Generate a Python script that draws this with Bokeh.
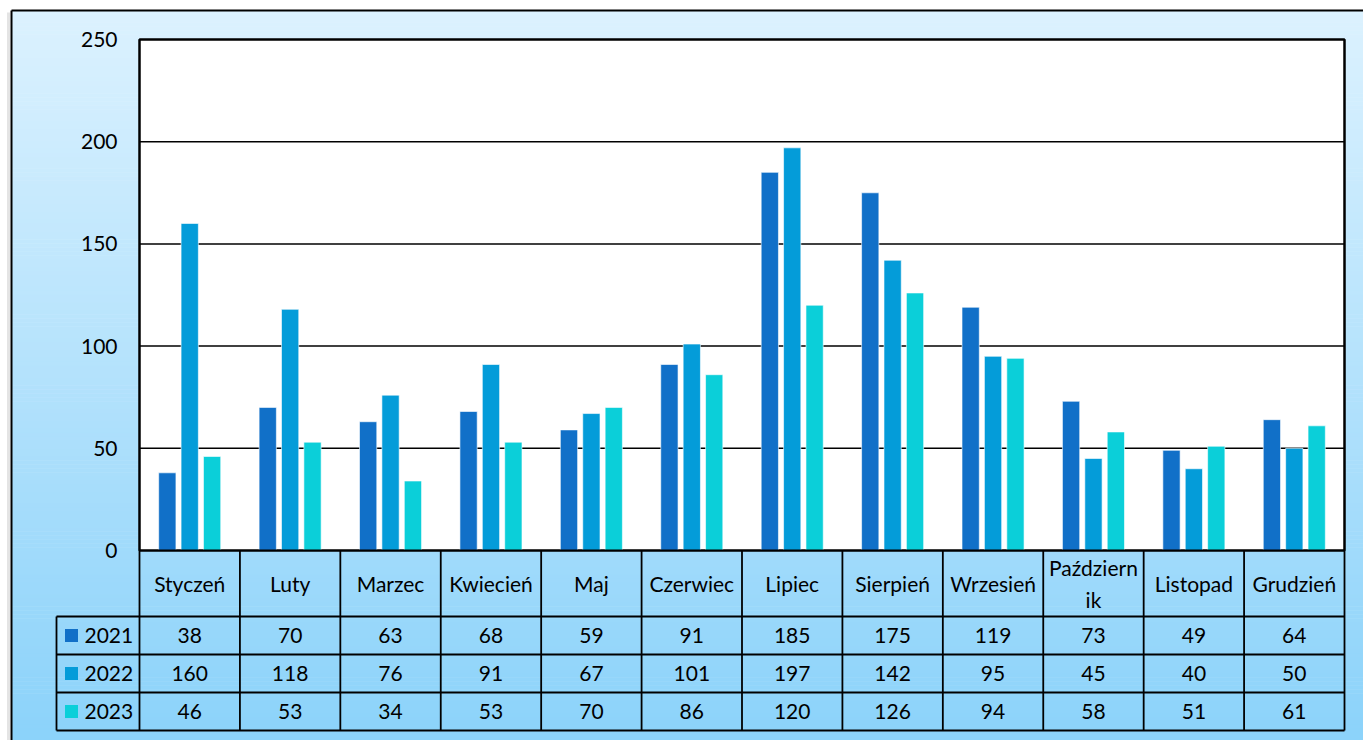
import numpy as np
from bokeh.plotting import figure
from bokeh.models import Range1d
from bokeh.core.properties import value
from bokeh.embed import file_html
from bokeh.resources import INLINE

# ---------------- data ----------------
months = ["Styczeń", "Luty", "Marzec", "Kwiecień", "Maj", "Czerwiec", "Lipiec",
          "Sierpień", "Wrzesień", "Październik", "Listopad", "Grudzień"]
years = ["2021", "2022", "2023"]
v2021 = [38, 70, 63, 68, 59, 91, 185, 175, 119, 73, 49, 64]
v2022 = [160, 118, 76, 91, 67, 101, 197, 142, 95, 45, 40, 50]
v2023 = [46, 53, 34, 53, 70, 86, 120, 126, 94, 58, 51, 61]
y_ticks = [0, 50, 100, 150, 200, 250]

series = [v2021, v2022, v2023]
colors = ["#1170C8", "#049CD9", "#0BCFD9"]
FONT = value("Lato")
FS = "21px"

ORG = 0          # page offset of the canvas
W, H = 1363, 740
# page geometry (page px): plot area 139..1344 x, 39..550 y
PX_L, PX_R, PY_T, PY_B = 139, 1344, 39, 550
ppu_x = (PX_R - PX_L) / 12.0
ppu_y = (PY_B - PY_T) / 250.0
x0 = (ORG - PX_L) / ppu_x
x1 = (ORG + W - PX_L) / ppu_x
y1 = (PY_B - ORG) / ppu_y
y0 = (PY_B - (ORG + H)) / ppu_y

p = figure(width=W, height=H, output_backend="svg", toolbar_location=None,
           x_range=Range1d(x0, x1), y_range=Range1d(y0, y1),
           min_border=0, min_border_left=0, min_border_right=0,
           min_border_top=0, min_border_bottom=0)
p.extra_x_ranges = {"px": Range1d(ORG, ORG + W)}
p.extra_y_ranges = {"px": Range1d(ORG + H, ORG)}
p.axis.visible = False
p.grid.visible = False
p.outline_line_color = None
p.background_fill_color = "white"
p.border_fill_color = "white"

# ---- gradient background of the chart area ----
n = 185
edges = np.linspace(10, ORG + H, n + 1)
top_c = np.array([220, 242, 255])
bot_c = np.array([140, 211, 250])
cols = []
for k in range(n):
    t = k / (n - 1)
    c = (top_c * (1 - t) + bot_c * t).astype(int)
    cols.append("#%02x%02x%02x" % tuple(c))
p.quad(left=11, right=ORG + W, top=edges[:-1], bottom=edges[1:] + 0.5,
       fill_color=cols, line_color=None,
       x_range_name="px", y_range_name="px")
# outer chart frame (with faint outer shadow)
p.segment(x0=[8], y0=[12], x1=[8], y1=[ORG + H],
          line_color="#e4e4e4", line_width=3, x_range_name="px", y_range_name="px")
p.segment(x0=[11, 11], y0=[10, 10], x1=[ORG + W, 11], y1=[10, ORG + H],
          line_color="black", line_width=2, x_range_name="px", y_range_name="px")

# ---- plot area ----
p.quad(left=0, right=12, bottom=0, top=250, fill_color="white",
       line_color="black", line_width=2)
grid_vals = [t for t in y_ticks if 0 < t < 250]
p.segment(x0=[0] * len(grid_vals), x1=[12] * len(grid_vals), y0=grid_vals,
          y1=grid_vals, line_color="black", line_width=1.5)

idx = np.arange(len(months)) + 0.5
offsets = [-0.223, 0.0, 0.223]
for vals, col, off in zip(series, colors, offsets):
    p.vbar(x=idx + off, top=vals, bottom=0, width=0.172, fill_color=col,
           line_color="white", line_alpha=0.6, line_width=1)

# redraw border on top of bars
p.quad(left=0, right=12, bottom=0, top=250, fill_color=None,
       line_color="black", line_width=2)

# y tick labels
p.text(x=[(117 - PX_L) / ppu_x] * len(y_ticks), y=y_ticks,
       text=[str(t) for t in y_ticks], text_align="right",
       text_baseline="middle", text_font=FONT, text_font_size=FS,
       text_color="black")

# ---- data table ----
row_lines = [616, 654, 692, 730]
leg_left = (56 - PX_L) / ppu_x
p.segment(x0=[leg_left] * len(row_lines), x1=[12] * len(row_lines),
          y0=row_lines, y1=row_lines, line_color="black", line_width=1.8,
          y_range_name="px")
col_b = list(range(0, 13))
p.segment(x0=col_b, x1=col_b, y0=[PY_B] * len(col_b), y1=[730] * len(col_b),
          line_color="black", line_width=1.8, y_range_name="px")
p.segment(x0=[leg_left], x1=[leg_left], y0=[616], y1=[730],
          line_color="black", line_width=1.8, y_range_name="px")


def wrap(s, n=10):
    return s if len(s) <= n else s[:n - 1] + "\n" + s[n - 1:]


p.text(x=idx, y=[583] * len(months), text=[wrap(m) for m in months],
       text_align="center", text_baseline="middle", text_font=FONT,
       text_font_size=FS, text_color="black", text_line_height=1.3,
       y_range_name="px")

row_centers = [635, 673, 711]
for vals, rc, yr, col in zip(series, row_centers, years, colors):
    p.text(x=idx, y=[rc] * len(vals), text=[str(v) for v in vals],
           text_align="center", text_baseline="middle", text_font=FONT,
           text_font_size=FS, text_color="black", y_range_name="px")
    p.rect(x=[(71 - PX_L) / ppu_x], y=[rc], width=13, height=13,
           width_units="screen", height_units="screen", fill_color=col,
           line_color=None, y_range_name="px")
    p.text(x=[(84 - PX_L) / ppu_x], y=[rc], text=[yr], text_align="left",
           text_baseline="middle", text_font=FONT, text_font_size=FS,
           text_color="black", y_range_name="px")

open("out.html", "w").write(file_html(p, INLINE))
